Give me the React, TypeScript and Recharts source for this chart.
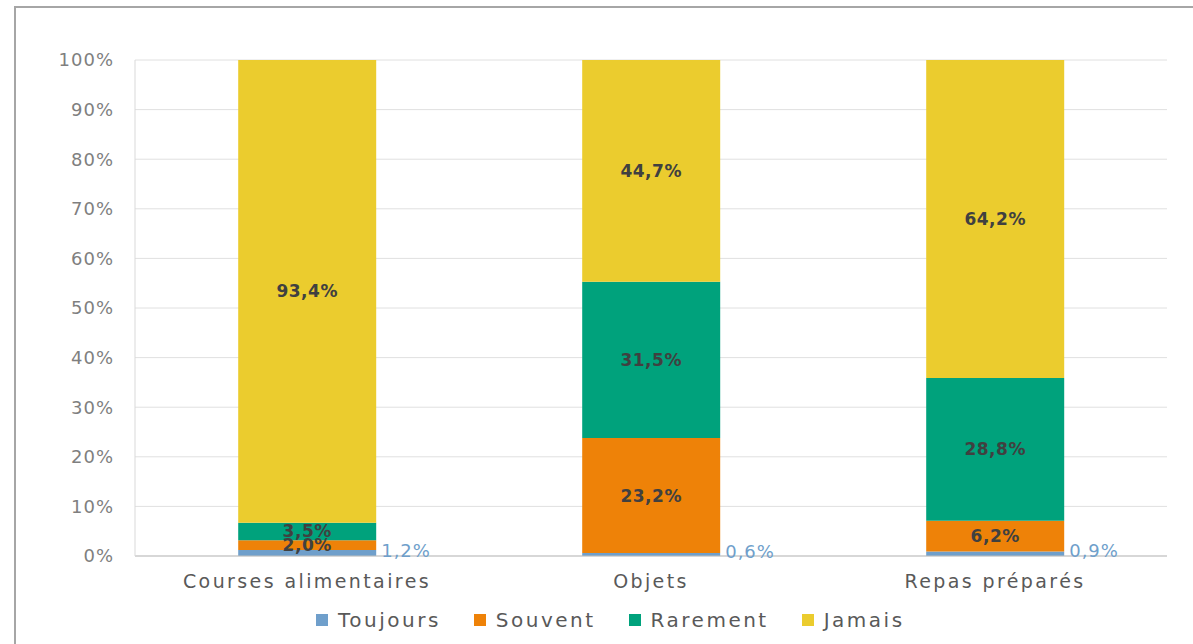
import { Bar, BarChart, CartesianGrid, LabelList, XAxis, YAxis } from "recharts";

const categories = ["Courses alimentaires", "Objets", "Repas préparés"];
const toujours = [1.2, 0.6, 0.9];
const souvent = [2.0, 23.2, 6.2];
const rarement = [3.5, 31.5, 28.8];
const jamais = [93.4, 44.7, 64.2];
const yTicks = [0, 10, 20, 30, 40, 50, 60, 70, 80, 90, 100];

const data = categories.map((name, i) => ({
  name,
  toujours: toujours[i],
  souvent: souvent[i],
  rarement: rarement[i],
  jamais: jamais[i],
}));

const series = [
  { key: "toujours", label: "Toujours", color: "#6f9fcb" },
  { key: "souvent", label: "Souvent", color: "#ee8208" },
  { key: "rarement", label: "Rarement", color: "#00a27c" },
  { key: "jamais", label: "Jamais", color: "#ebcc2e" },
];

const font = "'DejaVu Sans', sans-serif";
const pct = (v: number) => v.toFixed(1).replace(".", ",") + "%";

const labelStyle = {
  fill: "#404040",
  fontSize: 17,
  fontWeight: 600,
  fontFamily: font,
  letterSpacing: 0.5,
};

function OutsideLabel(props: any) {
  const { x, y, width, height, value } = props;
  return (
    <text
      x={Number(x) + Number(width) + 5}
      y={Number(y) + Number(height) / 2 - 3}
      dominantBaseline="central"
      fill="#6f9fcb"
      fontSize={18}
      fontFamily={font}
      letterSpacing={1}
    >
      {pct(Number(value))}
    </text>
  );
}

export default function App() {
  return (
    <div
      style={{
        position: "fixed",
        left: 0,
        top: 0,
        width: 1193,
        height: 644,
        overflow: "hidden",
        background: "#fff",
      }}
    >
      <div style={{ position: "absolute", left: 0, top: 0 }}>
        <BarChart
          width={1193}
          height={644}
          data={data}
          margin={{ top: 60, right: 26, bottom: 48, left: 0 }}
          barCategoryGap="30%"
        >
          <CartesianGrid stroke="#e0e0e0" vertical={false} />
          <XAxis
            dataKey="name"
            height={40}
            tickLine={false}
            tickSize={0}
            tickMargin={19}
            axisLine={{ stroke: "#bfbfbf" }}
            tick={{ fill: "#595959", fontSize: 19, fontFamily: font, letterSpacing: 2.4 }}
          />
          <YAxis
            width={135}
            domain={[0, 100]}
            ticks={yTicks}
            allowDataOverflow
            interval={0}
            tickLine={false}
            tickSize={0}
            tickMargin={21}
            axisLine={{ stroke: "#d9d9d9" }}
            tickFormatter={(v) => v + "%"}
            tick={{ fill: "#7f7f7f", fontSize: 18, fontFamily: font, letterSpacing: 1 }}
          />
          {series.map((s) => (
            <Bar
              key={s.key}
              dataKey={s.key}
              stackId="a"
              fill={s.color}
              isAnimationActive={false}
            >
              {s.key === "toujours" ? (
                <LabelList dataKey={s.key} content={OutsideLabel} />
              ) : (
                <LabelList
                  dataKey={s.key}
                  position="center"
                  formatter={(v: any) => pct(Number(v))}
                  style={labelStyle}
                />
              )}
            </Bar>
          ))}
        </BarChart>
      </div>
      <div
        style={{
          position: "absolute",
          left: 14,
          top: 6,
          width: 1179,
          height: 2,
          background: "#a6a6a6",
          zIndex: 10,
        }}
      />
      <div
        style={{
          position: "absolute",
          left: 14,
          top: 6,
          width: 2,
          height: 638,
          background: "#a6a6a6",
          zIndex: 10,
        }}
      />
      <div
        style={{
          position: "absolute",
          left: 316,
          top: 608,
          display: "flex",
          alignItems: "center",
          gap: 33,
          fontFamily: font,
          fontSize: 20,
          letterSpacing: 2.5,
          color: "#595959",
        }}
      >
        {series.map((s) => (
          <div key={s.key} style={{ display: "flex", alignItems: "center", gap: 10 }}>
            <span style={{ width: 12, height: 12, background: s.color, display: "inline-block" }} />
            <span>{s.label}</span>
          </div>
        ))}
      </div>
    </div>
  );
}
